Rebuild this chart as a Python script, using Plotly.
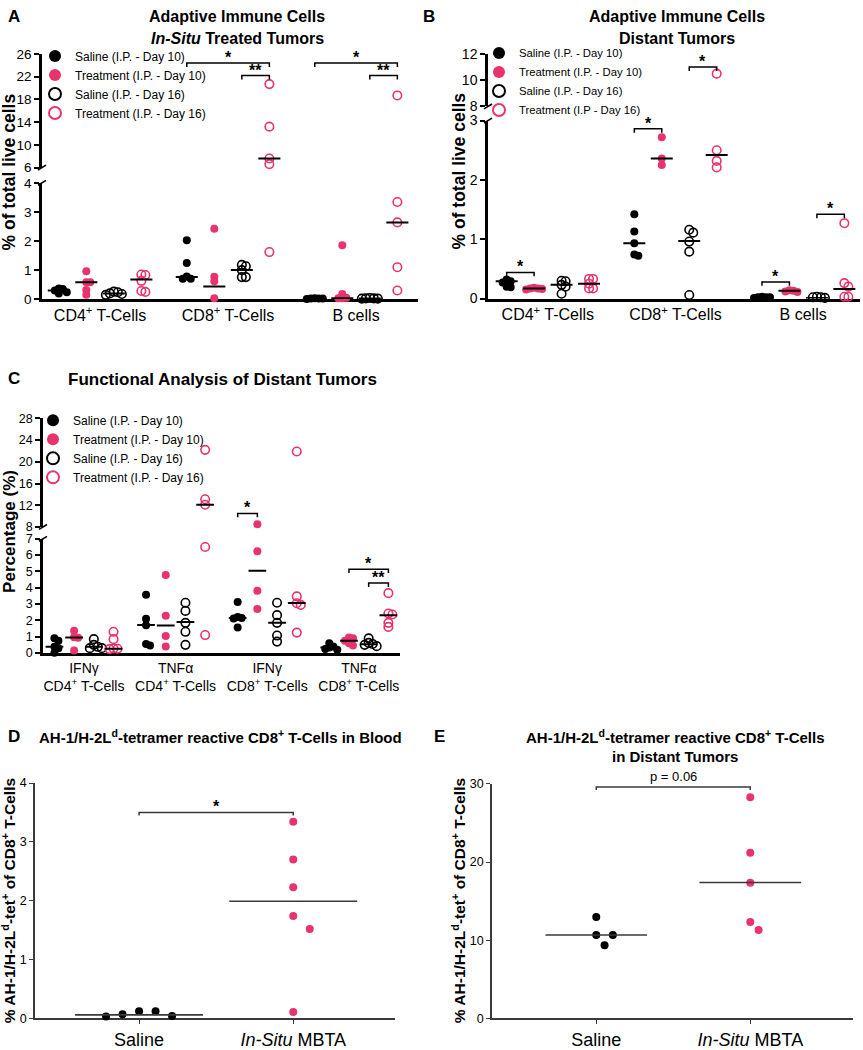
import plotly.graph_objects as go

W, H = 863, 1050
FONT = "Liberation Sans, Arial, sans-serif"
PINK = "#E8336E"

# ------------------------------------------------------------------ data
NAMES_A = ["Saline (I.P. - Day 10)", "Treatment (I.P. - Day 10)",
           "Saline (I.P. - Day 16)", "Treatment (I.P. - Day 16)"]
NAMES_B = ["Saline (I.P. - Day 10)", "Treatment (I.P. - Day 10)",
           "Saline (I.P. - Day 16)", "Treatment (I.P - Day 16)"]

# Panel A: in-situ treated tumors (% of total live cells)
A_categories = ["CD4<sup>+</sup> T-Cells", "CD8<sup>+</sup> T-Cells", "B cells"]
A_saline_d10 = [[0.37, 0.35, 0.30, 0.24, 0.20],
                [2.03, 1.24, 0.78, 0.70, 0.70],
                [0.03, 0.02, 0.02, 0.02, 0.01]]
A_treat_d10 = [[0.96, 0.58, 0.58, 0.32, 0.15],
               [2.42, 0.77, 0.62, 0.03],
               [1.85, 0.18, 0.05, 0.03, 0.03]]
A_saline_d16 = [[0.26, 0.24, 0.20, 0.18, 0.15],
                [1.18, 1.13, 1.00, 0.76, 0.76],
                [0.04, 0.03, 0.03, 0.02, 0.02]]
A_treat_d16 = [[0.85, 0.83, 0.63, 0.28, 0.25],
               [20.7, 13.2, 7.6, 6.6, 1.62],
               [18.7, 3.34, 2.64, 1.10, 0.30]]
A_medians = [[0.30, 0.76, 0.02], [0.58, 0.44, 0.03],
             [0.20, 1.00, 0.02], [0.68, 7.6, 2.64]]
A_brackets = [(1, 0, 3, 24.4, "*"), (1, 2, 3, 22.2, "**"),
              (2, 0, 3, 24.4, "*"), (2, 2, 3, 22.2, "**")]

# Panel B: distant tumors (% of total live cells)
B_categories = ["CD4<sup>+</sup> T-Cells", "CD8<sup>+</sup> T-Cells", "B cells"]
B_saline_d10 = [[0.32, 0.29, 0.27, 0.20, 0.19],
                [1.42, 1.13, 0.93, 0.74, 0.72],
                [0.03, 0.02, 0.02, 0.02, 0.01]]
B_treat_d10 = [[0.18, 0.17, 0.17, 0.16, 0.15],
               [2.72, 2.36, 2.25],
               [0.14, 0.13, 0.12, 0.11]]
B_saline_d16 = [[0.30, 0.29, 0.23, 0.20, 0.08],
                [1.16, 1.11, 0.96, 0.79, 0.06],
                [0.03, 0.02, 0.02, 0.01]]
B_treat_d16 = [[0.33, 0.33, 0.25, 0.17, 0.17],
               [10.5, 2.50, 2.32, 2.21],
               [1.27, 0.26, 0.20, 0.03, 0.03]]
B_medians = [[0.29, 0.93, 0.02], [0.17, 2.36, 0.13],
             [0.23, 0.97, 0.01], [0.25, 2.42, 0.16]]
B_brackets = [(0, 0, 1, 0.44, "*"), (1, 0, 1, 2.86, "*"), (1, 2, 3, 11.0, "*"),
              (2, 0, 1, 0.28, "*"), (2, 2, 3, 1.42, "*")]

# Panel C: functional analysis of distant tumors (percentage)
C_categories = ["IFNγ<br>CD4<sup>+</sup> T-Cells", "TNFα<br>CD4<sup>+</sup> T-Cells",
                "IFNγ<br>CD8<sup>+</sup> T-Cells", "TNFα<br>CD8<sup>+</sup> T-Cells"]
C_saline_d10 = [[0.90, 0.75, 0.38, 0.30, 0.02],
                [3.57, 2.10, 1.70, 0.56, 0.46],
                [3.12, 2.20, 2.15, 2.12, 1.57],
                [0.60, 0.40, 0.34, 0.25, 0.20]]
C_treat_d10 = [[1.37, 0.97, 0.93, 0.16],
               [4.78, 2.28, 1.05, 0.40],
               [8.5, 6.23, 3.81, 2.70],
               [0.95, 0.90, 0.75, 0.60, 0.46]]
C_saline_d16 = [[0.85, 0.50, 0.38, 0.30, 0.30],
                [3.08, 2.58, 1.85, 1.30, 0.50],
                [3.08, 2.32, 1.85, 1.07, 0.70],
                [0.90, 0.62, 0.55, 0.50, 0.42]]
C_treat_d16 = [[1.30, 0.85, 0.28, 0.26, 0.24],
               [22.2, 13.1, 12.1, 6.5, 1.10],
               [21.9, 3.47, 3.05, 2.95, 1.25],
               [3.67, 2.42, 2.36, 1.85, 1.60]]
C_medians = [[0.38, 1.71, 2.15, 0.34], [0.95, 1.68, 5.04, 0.75],
             [0.38, 1.90, 1.85, 0.54], [0.26, 12.1, 3.06, 2.32]]
C_brackets = [(2, 0, 1, 10.5, "*"), (3, 1, 3, 5.14, "*"), (3, 2, 3, 4.29, "**")]

# Panel D: tetramer+ CD8 T cells in blood
D_categories = ["Saline", "<i>In-Situ</i> MBTA"]
D_saline = [0.04, 0.12, 0.07, 0.12, 0.03]
D_mbta = [3.34, 2.70, 2.23, 1.74, 1.52, 0.11]
D_medians = [0.06, 1.99]

# Panel E: tetramer+ CD8 T cells in distant tumors
E_categories = ["Saline", "<i>In-Situ</i> MBTA"]
E_saline = [12.97, 10.67, 10.67, 9.37]
E_mbta = [28.3, 21.2, 17.36, 12.34, 11.3]
E_medians = [10.67, 17.4]

# ------------------------------------------------------------------ helpers
fig = go.Figure()
layout = {}
counter = [0]


def ref(n, k):
    return k + ("" if n == 1 else str(n))


def axkey(n, k):
    return k + "axis" + ("" if n == 1 else str(n))


def px_x(p):
    return p / W


def px_y(p):
    return 1 - p / H


def val_to_px(v, segs):
    for (vmin, vmax, pb, pt, _) in segs:
        if v <= vmax:
            return pb + (v - vmin) / (vmax - vmin) * (pt - pb)
    vmin, vmax, pb, pt, _ = segs[-1]
    return pb + (v - vmin) / (vmax - vmin) * (pt - pb)


def seg_index(v, segs):
    for i, s in enumerate(segs):
        if v <= s[1]:
            return i
    return len(segs) - 1


def swarm(ypx, xunit, mind=4.0, step=4.0):
    order = sorted(range(len(ypx)), key=lambda i: ypx[i])
    placed = []
    out = [0.0] * len(ypx)
    for i in order:
        y = ypx[i]
        x = 0.0
        for k in [0, 1, -1, 2, -2, 3, -3, 4, -4, 5, -5]:
            x = k * step
            if all((x - a) ** 2 + (y - b) ** 2 >= mind ** 2 for a, b in placed):
                break
        placed.append((x, y))
        out[i] = x / xunit
    return out


STYLES = [
    dict(symbol="circle", size=8, color="black"),
    dict(symbol="circle", size=8, color=PINK),
    dict(symbol="circle-open", size=8.5, color="black", line=dict(width=1.6, color="black")),
    dict(symbol="circle-open", size=8.5, color=PINK, line=dict(width=1.6, color=PINK)),
]
SUB = [-1.5, -0.5, 0.5, 1.5]
annotations = []
shapes = []


def broken_panel(cfg, series, medians, brackets, cats, names, legend_key):
    x0, x1 = cfg["xpx"]
    xr = cfg["xrange"]
    segs = cfg["segs"]
    gs = cfg["gs"]
    xunit = (x1 - x0) / (xr[1] - xr[0])
    ids = []
    for si, (vmin, vmax, pb, pt, ticks) in enumerate(segs):
        counter[0] += 1
        n = counter[0]
        ids.append(n)
        xa = dict(domain=[px_x(x0), px_x(x1)], range=list(xr), anchor=ref(n, "y"),
                  showgrid=False, zeroline=False, fixedrange=True)
        if si == 0:
            xa.update(showline=True, linecolor="black", linewidth=2.5,
                      tickvals=[g * gs for g in range(len(cats))], ticktext=cats,
                      ticks="", tickfont=dict(size=cfg["xfont"], color="black", family=FONT),
                      layer="below traces")
        else:
            xa.update(visible=False)
        ya = dict(domain=[px_y(pb), px_y(pt)], range=[vmin, vmax], anchor=ref(n, "x"),
                  showline=True, linecolor="black", linewidth=2.5, ticks="outside",
                  ticklen=5, tickwidth=1.5, tickcolor="black", tickvals=ticks,
                  tickfont=dict(size=cfg["yfont"], color="black", family=FONT),
                  showgrid=False, zeroline=False, layer="below traces", fixedrange=True)
        layout[axkey(n, "x")] = xa
        layout[axkey(n, "y")] = ya
    # break marks
    for si in range(len(segs) - 1):
        ytop = segs[si][3]
        ybot = segs[si + 1][2]
        for yy in (ytop, ybot):
            shapes.append(dict(type="line", xref="paper", yref="paper",
                               x0=px_x(x0 - 4), y0=px_y(yy + 2.5), x1=px_x(x0 + 4), y1=px_y(yy - 2.5),
                               line=dict(color="black", width=1.6)))
    # points
    for s in range(4):
        pts = {k: ([], []) for k in range(len(segs))}
        for g in range(len(cats)):
            vals = series[s][g]
            ypx = [val_to_px(v, segs) for v in vals]
            dx = swarm(ypx, xunit)
            cx = g * gs + SUB[s]
            for v, d in zip(vals, dx):
                k = seg_index(v, segs)
                pts[k][0].append(cx + d)
                pts[k][1].append(v)
        for k, n in enumerate(ids):
            fig.add_trace(go.Scatter(
                x=pts[k][0], y=pts[k][1], mode="markers", marker=STYLES[s],
                name=names[s], legend=legend_key, showlegend=(k == 0),
                xaxis=ref(n, "x"), yaxis=ref(n, "y"), cliponaxis=False, hoverinfo="skip"))
    # medians
    hw = cfg["hw"]
    lines = {k: ([], []) for k in range(len(segs))}
    for s in range(4):
        for g in range(len(cats)):
            m = medians[s][g]
            k = seg_index(m, segs)
            cx = g * gs + SUB[s]
            lines[k][0].extend([cx - hw, cx + hw, None])
            lines[k][1].extend([m, m, None])
    for k, n in enumerate(ids):
        fig.add_trace(go.Scatter(x=lines[k][0], y=lines[k][1], mode="lines",
                                 line=dict(color="black", width=2), showlegend=False,
                                 xaxis=ref(n, "x"), yaxis=ref(n, "y"), cliponaxis=False,
                                 hoverinfo="skip"))
    # brackets
    for (g, sa, sb, yv, txt) in brackets:
        k = seg_index(yv, segs)
        vmin, vmax, pb, pt, _ = segs[k]
        drop = 4.0 * (vmax - vmin) / (pb - pt)
        n = ids[k]
        xl = g * gs + SUB[sa]
        xr_ = g * gs + SUB[sb]
        fig.add_trace(go.Scatter(x=[xl, xl, xr_, xr_], y=[yv - drop, yv, yv, yv - drop],
                                 mode="lines", line=dict(color="black", width=1.5),
                                 showlegend=False, xaxis=ref(n, "x"), yaxis=ref(n, "y"),
                                 cliponaxis=False, hoverinfo="skip"))
        annotations.append(dict(x=(xl + xr_) / 2, y=yv, xref=ref(n, "x"), yref=ref(n, "y"),
                                text="<b>" + txt + "</b>", showarrow=False, yanchor="bottom",
                                yshift=-5, font=dict(size=16, color="black", family=FONT)))


def simple_panel(cfg, groups, medians, cats, bracket):
    counter[0] += 1
    n = counter[0]
    x0, x1 = cfg["xpx"]
    xr = cfg["xrange"]
    pb, pt = cfg["ypx"]
    xunit = (x1 - x0) / (xr[1] - xr[0])
    yunit = (pb - pt) / (cfg["yrange"][1] - cfg["yrange"][0])
    line_col = "#3a3a3a"
    layout[axkey(n, "x")] = dict(domain=[px_x(x0), px_x(x1)], range=list(xr), anchor=ref(n, "y"),
                                 showline=True, linecolor=line_col, linewidth=1.5, ticks="outside",
                                 ticklen=4, tickwidth=1.2, tickcolor=line_col,
                                 tickvals=[0, 1], ticktext=cats, showgrid=False, zeroline=False,
                                 tickfont=dict(size=18, color="black", family=FONT),
                                 layer="below traces", fixedrange=True)
    layout[axkey(n, "y")] = dict(domain=[px_y(pb), px_y(pt)], range=list(cfg["yrange"]),
                                 anchor=ref(n, "x"), showline=True, linecolor=line_col,
                                 linewidth=1.5, ticks="outside", ticklen=4, tickwidth=1.2,
                                 tickcolor=line_col, tickvals=cfg["yticks"], showgrid=False,
                                 zeroline=False, tickfont=dict(size=12.5, color="black", family=FONT),
                                 layer="below traces", fixedrange=True)
    colors = ["black", PINK]
    for gi, vals in enumerate(groups):
        ypx = [pb - (v - cfg["yrange"][0]) * yunit for v in vals]
        dx = swarm(ypx, xunit, mind=cfg["mind"], step=cfg["step"])
        fig.add_trace(go.Scatter(x=[gi + d for d in dx], y=vals, mode="markers",
                                 marker=dict(size=8, color=colors[gi]), showlegend=False,
                                 xaxis=ref(n, "x"), yaxis=ref(n, "y"), cliponaxis=False,
                                 hoverinfo="skip"))
    hw = cfg["hw"]
    mx, my = [], []
    for gi, m in enumerate(medians):
        mx += [gi - hw, gi + hw, None]
        my += [m, m, None]
    fig.add_trace(go.Scatter(x=mx, y=my, mode="lines", line=dict(color=line_col, width=1.6),
                             showlegend=False, xaxis=ref(n, "x"), yaxis=ref(n, "y"),
                             hoverinfo="skip"))
    yv, txt, tsize, bold = bracket
    drop = 3.0 / yunit
    fig.add_trace(go.Scatter(x=[0, 0, 1, 1], y=[yv - drop, yv, yv, yv - drop], mode="lines",
                             line=dict(color=line_col, width=1.5), showlegend=False,
                             xaxis=ref(n, "x"), yaxis=ref(n, "y"), cliponaxis=False,
                             hoverinfo="skip"))
    annotations.append(dict(x=0.5, y=yv, xref=ref(n, "x"), yref=ref(n, "y"),
                            text=("<b>%s</b>" % txt) if bold else txt, showarrow=False,
                            yanchor="bottom", yshift=(-5 if bold else 1),
                            font=dict(size=tsize, color="black", family=FONT)))


# ------------------------------------------------------------------ panels
cfgA = dict(xpx=(42, 418), xrange=(-2.11, 11.55), gs=4.65, hw=0.4, xfont=16, yfont=13.5,
            segs=[(0, 4, 295.7, 177.5, [0, 1, 2, 3, 4]),
                  (6, 26, 162, 46.7, [6, 10, 14, 18, 22, 26])])
broken_panel(cfgA, [A_saline_d10, A_treat_d10, A_saline_d16, A_treat_d16],
             A_medians, A_brackets, A_categories, NAMES_A, "legend")

cfgB = dict(xpx=(488, 860), xrange=(-2.18, 11.37), gs=4.65, hw=0.4, xfont=16, yfont=14,
            segs=[(0, 3, 295, 114.3, [0, 1, 2, 3]),
                  (8, 12, 100, 46.7, [8, 10, 12])])
broken_panel(cfgB, [B_saline_d10, B_treat_d10, B_saline_d16, B_treat_d16],
             B_medians, B_brackets, B_categories, NAMES_B, "legend2")

cfgC = dict(xpx=(43, 400), xrange=(-2.08, 16.04), gs=4.65, hw=0.45, xfont=14, yfont=12.5,
            segs=[(0, 7, 655, 539, [0, 1, 2, 3, 4, 5, 6, 7]),
                  (8, 28, 527, 416.7, [8, 12, 16, 20, 24, 28])])
broken_panel(cfgC, [C_saline_d10, C_treat_d10, C_saline_d16, C_treat_d16],
             C_medians, C_brackets, C_categories, NAMES_A, "legend3")

cfgD = dict(xpx=(35, 395), xrange=(-0.675, 1.66), ypx=(1026, 787), yrange=(0, 4),
            yticks=[0, 1, 2, 3, 4], hw=0.415, mind=16, step=16.5)
simple_panel(cfgD, [D_saline, D_mbta], D_medians, D_categories, (3.5, "*", 16, True))

cfgE = dict(xpx=(492, 853), xrange=(-0.677, 1.667), ypx=(1026, 788), yrange=(0, 30),
            yticks=[0, 10, 20, 30], hw=0.33, mind=11, step=8.3)
simple_panel(cfgE, [E_saline, E_mbta], E_medians, E_categories, (29.6, "p = 0.06", 13, False))

# ------------------------------------------------------------------ text


def text(x, y, s, size, bold=True, xanchor="center", angle=0):
    t = s
    if bold:
        t = "<b>" + t + "</b>"
    annotations.append(dict(x=px_x(x), y=px_y(y), xref="paper", yref="paper", text=t,
                            showarrow=False, xanchor=xanchor, yanchor="middle", textangle=angle,
                            font=dict(size=size, color="black", family=FONT)))


text(6, 9, "A", 17, xanchor="left")
text(237, 9, "Adaptive Immune Cells", 16)
text(237, 31, "<i>In-Situ</i> Treated Tumors", 16)
text(421, 9, "B", 17, xanchor="left")
text(677, 9, "Adaptive Immune Cells", 16)
text(677, 31, "Distant Tumors", 16)
text(6, 376, "C", 17, xanchor="left")
text(222, 377, "Functional Analysis of Distant Tumors", 17)
text(6, 740, "D", 17, xanchor="left")
text(37, 740, "AH-1/H-2L<sup>d</sup>-tetramer reactive CD8<sup>+</sup> T-Cells in Blood", 15,
     xanchor="left")
text(432, 740, "E", 17, xanchor="left")
text(675, 740, "AH-1/H-2L<sup>d</sup>-tetramer reactive CD8<sup>+</sup> T-Cells", 15)
text(675, 760, "in Distant Tumors", 15)

text(9, 167, "% of total live cells", 17.5, angle=-90)
text(459, 166, "% of total live cells", 17.5, angle=-90)
text(10, 532, "Percentage (%)", 17, angle=-90)
ytitle = "% AH-1/H-2L<sup>d</sup>-tet<sup>+</sup> of CD8<sup>+</sup> T-Cells"
text(9, 907, ytitle, 15.5, angle=-90)
text(459, 907, ytitle, 15.5, angle=-90)

# ------------------------------------------------------------------ layout
leg_common = dict(bgcolor="rgba(0,0,0,0)", font=dict(size=12, color="black", family=FONT),
                  xanchor="left", yanchor="top", tracegroupgap=0, itemsizing="constant",
                  traceorder="normal")
layout["legend"] = dict(leg_common, x=px_x(35), y=px_y(34))
layout["legend2"] = dict(leg_common, x=px_x(479), y=px_y(31),
                         font=dict(size=11.3, color="black", family=FONT))
layout["legend3"] = dict(leg_common, x=px_x(33), y=px_y(404))

fig.update_layout(
    width=W, height=H, margin=dict(l=0, r=0, t=0, b=0),
    paper_bgcolor="white", plot_bgcolor="white",
    font=dict(family=FONT, color="black"),
    annotations=annotations, shapes=shapes, **layout)

fig.write_html("out.html", config={"displayModeBar": False},
               post_script="document.body.style.margin='0';")
